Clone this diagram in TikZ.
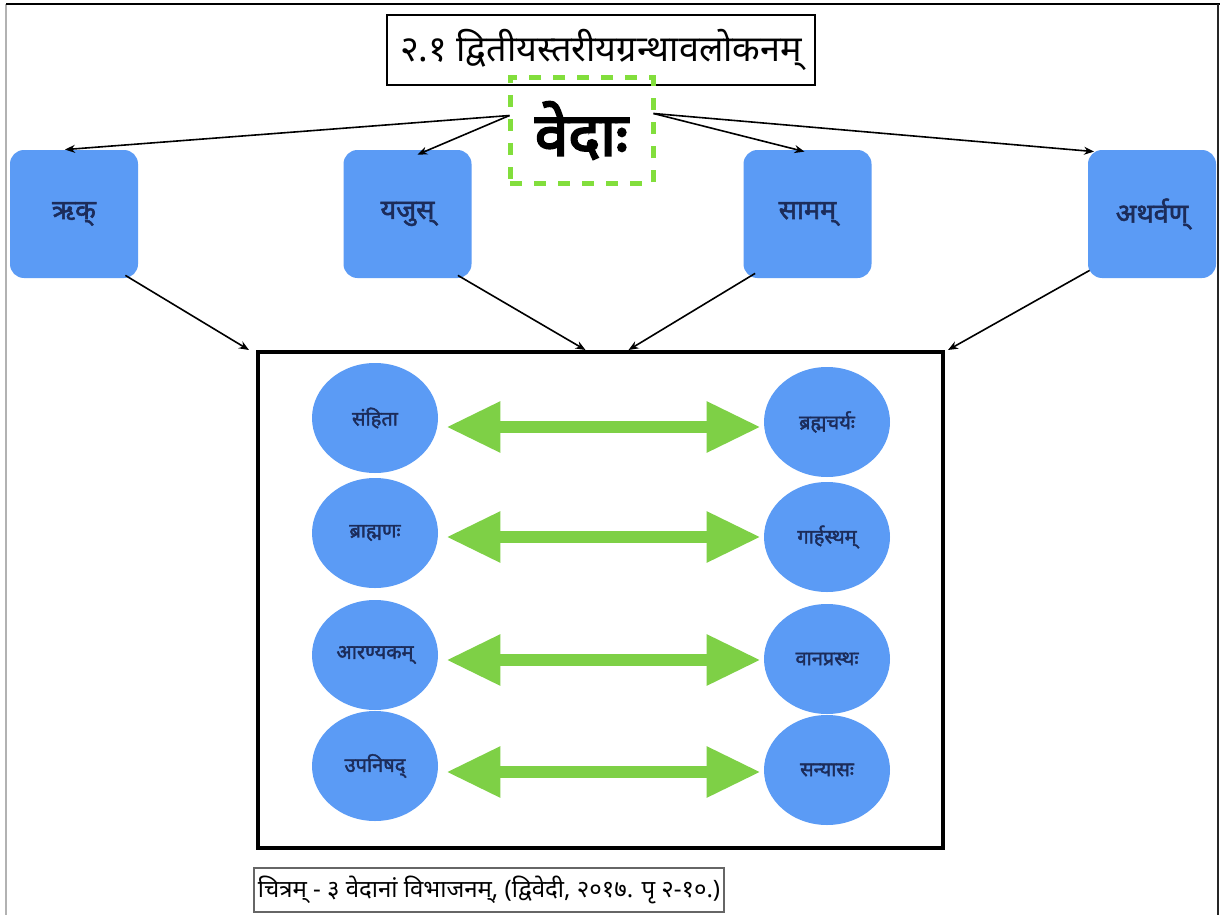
\documentclass[tikz,border=0pt]{standalone}
\usepackage{fontspec}
\newfontfamily\deva[Script=Devanagari]{Noto Sans}
\newfontfamily\devab[Script=Devanagari,FakeBold=2]{Noto Sans}
\newfontfamily\devabb[Script=Devanagari,FakeBold=3.5]{Noto Sans}
\usetikzlibrary{arrows.meta,shapes.geometric,calc}
\definecolor{boxblue}{RGB}{91,155,245}
\definecolor{navy}{RGB}{28,44,90}
\definecolor{lgreen}{RGB}{126,208,70}
\definecolor{dgreen}{RGB}{130,222,60}
\begin{document}
\begin{tikzpicture}[x=0.5pt,y=-0.5pt,
 vbox/.style={fill=boxblue,rounded corners=7pt,minimum width=64pt,minimum height=64pt,inner sep=0pt,font=\devab\fontsize{13.5}{15}\selectfont,text=navy},
 oval/.style={ellipse,fill=boxblue,minimum width=63pt,minimum height=55pt,inner sep=0pt,font=\devab\fontsize{10}{12}\selectfont,text=navy},
 thinarrow/.style={-{Stealth[length=5pt,width=4pt]},line width=0.8pt,black},
 garrow/.style={{Triangle[length=27pt,width=24pt]}-{Triangle[length=27pt,width=24pt]},line width=6pt,lgreen},
]
\useasboundingbox (0,0) rectangle (1220,915);
\fill[white] (0,0) rectangle (1220,915);
% outer frame
\draw[gray!60,line width=1.3pt] (6,4) -- (6,915);
\draw[black,line width=1pt] (6,4) -- (1220,4);
\draw[black!85,line width=1.3pt] (1218,4) -- (1218,915);

% title
\node[draw,line width=0.8pt,minimum width=214pt,minimum height=35pt,inner sep=0pt,font=\deva\fontsize{18}{20}\selectfont] (title) at (601,50) {२.१ द्वितीयस्तरीयग्रन्थावलोकनम्};
% vedas
\node[draw=dgreen,dash pattern=on 6pt off 6pt,line width=2.5pt,minimum width=71.5pt,minimum height=52.5pt,inner sep=0pt,font=\devabb\fontsize{30}{32}\selectfont] (vedas) at (581.5,130.5) {वेदाः};

% four vedas
\node[vbox] (rk) at (74,214) {ऋक्};
\node[vbox] (yajus) at (407.5,214) {यजुस्};
\node[vbox] (sama) at (807.5,214) {सामम्};
\node[vbox] (atharva) at (1152,214) {अथर्वण्};

\coordinate (vl) at ($(vedas.west)+(2,-15)$);
\coordinate (vr) at ($(vedas.east)+(-2,-17)$);
\draw[thinarrow] (vl) -- ($(rk.north)+(-9,0)$);
\draw[thinarrow] (vl) -- ($(yajus.north)+(10,5)$);
\draw[thinarrow] (vr) -- ($(sama.north)+(-3,2)$);
\draw[thinarrow] (vr) -- ($(atharva.north)+(-58,2)$);

% big box
\node[draw,line width=2pt,minimum width=342.5pt,minimum height=248pt,inner sep=0pt] (big) at (600.5,600) {};

\draw[thinarrow] ($(rk.south east)+(-13,-3)$) -- ($(big.north west)+(-7,0)$);
\draw[thinarrow] ($(yajus.south east)+(-14,-3)$) -- ($(big.north)+(-15,0)$);
\draw[thinarrow] ($(sama.south west)+(12,-5)$) -- ($(big.north)+(28,0)$);
\draw[thinarrow] ($(atharva.south west)+(2,-8)$) -- ($(big.north east)+(3,0)$);

% circles
\node[oval] (s1) at (375,418) {संहिता};
\node[oval] (s2) at (375,533) {ब्राह्मणः};
\node[oval] (s3) at (375,655) {आरण्यकम्};
\node[oval] (s4) at (375,766) {उपनिषद्};
\node[oval] (a1) at (827,422) {ब्रह्मचर्यः};
\node[oval] (a2) at (827,537) {गार्हस्थम्};
\node[oval] (a3) at (827,659) {वानप्रस्थः};
\node[oval] (a4) at (827,770) {सन्यासः};

\draw[garrow] ($(s1.east)+(8,9)$) -- ($(a1.west)+(-3,5)$);
\draw[garrow] ($(s2.east)+(8,4)$) -- ($(a2.west)+(-3,0)$);
\draw[garrow] ($(s3.east)+(8,5)$) -- ($(a3.west)+(-3,1)$);
\draw[garrow] ($(s4.east)+(8,6)$) -- ($(a4.west)+(-3,2)$);

% caption
\node[draw=gray!80!black,line width=0.8pt,minimum width=231pt,minimum height=22pt,inner sep=2pt,font=\deva\fontsize{12}{14}\selectfont] (cap) at (489,890) {चित्रम् - ३ वेदानां विभाजनम्, (द्विवेदी, २०१७. पृ २-१०.)};
\end{tikzpicture}
\end{document}
